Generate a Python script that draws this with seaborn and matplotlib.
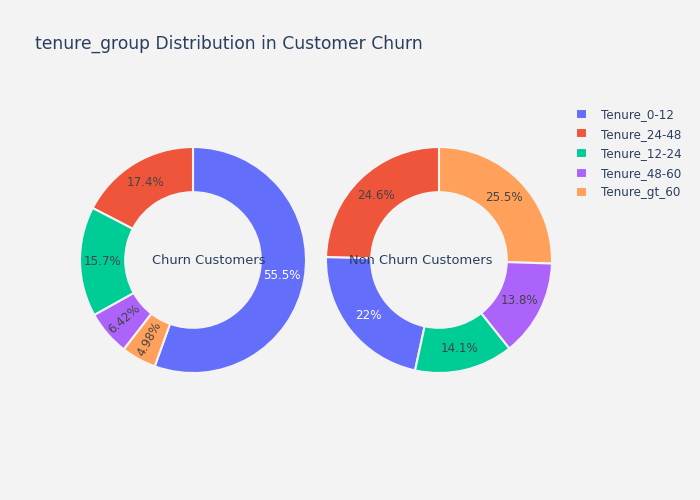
import matplotlib
matplotlib.use("Agg")
import matplotlib.pyplot as plt
import numpy as np
import seaborn as sns

# Dados (percentuais)
grupos = ["Tenure_0-12", "Tenure_24-48", "Tenure_12-24", "Tenure_48-60", "Tenure_gt_60"]
churn_pct = [55.5, 17.4, 15.7, 6.42, 4.98]
nao_churn_pct = [22.0, 24.6, 14.1, 13.8, 25.5]
titulos = ["Churn Customers", "Non Churn Customers"]

cores = ["#636efa", "#EF553B", "#00cc96", "#ab63fa", "#FFA15A"]
fundo = "#f3f3f3"
cor_texto = "#2a3f5f"

sns.set_theme(style="white", rc={"figure.facecolor": fundo, "axes.facecolor": fundo})
plt.rcParams["font.family"] = ["DejaVu Sans"]

fig = plt.figure(figsize=(7, 5), dpi=100)


def donut(ax, valores):
    # ordena decrescente, como o plotly faz
    ordem = np.argsort(valores)[::-1]
    vals = [valores[i] for i in ordem]
    cs = [cores[i] for i in ordem]
    inicio = 90 - 360 * vals[0] / sum(vals)
    wedges, _ = ax.pie(
        vals,
        colors=cs,
        startangle=inicio,
        counterclock=True,
        radius=1,
        wedgeprops=dict(width=0.4, edgecolor=fundo, linewidth=1.5),
    )
    for w, v, i in zip(wedges, vals, ordem):
        ang = np.deg2rad((w.theta1 + w.theta2) / 2)
        r = 0.8
        x, y = r * np.cos(ang), r * np.sin(ang)
        rot = 0
        if v / sum(vals) < 0.1:
            rot = np.rad2deg(ang) % 180
        ax.text(x, y, f"{v:.3g}%", ha="center", va="center",
                fontsize=8.6, rotation=rot,
                color="white" if i == 0 else "#444444")
    ax.set_xlim(-1, 1)
    ax.set_ylim(-1, 1)
    ax.set_aspect("equal")
    return wedges, ordem


ax1 = fig.add_axes([80 / 700, 127 / 500, 226 / 700, 226 / 500])
ax2 = fig.add_axes([326 / 700, 127 / 500, 226 / 700, 226 / 500])

w1, ordem1 = donut(ax1, churn_pct)
donut(ax2, nao_churn_pct)

# anotacoes centrais
fig.text(209 / 700, 1 - 261 / 500, titulos[0], ha="center", va="center",
         fontsize=9.4, color=cor_texto)
fig.text(421 / 700, 1 - 261 / 500, titulos[1], ha="center", va="center",
         fontsize=9.4, color=cor_texto)

fig.text(35 / 700, 1 - 44 / 500, "tenure_group Distribution in Customer Churn",
         ha="left", va="center", fontsize=12.3, color=cor_texto)

handles = [w1[list(ordem1).index(k)] for k in range(len(grupos))]
leg = fig.legend(
    handles, grupos,
    loc="upper left",
    bbox_to_anchor=(576 / 700, 1 - 108 / 500),
    frameon=False,
    fontsize=8.6,
    handlelength=0.9,
    handleheight=0.9,
    handletextpad=1.2,
    labelspacing=0.55,
    borderpad=0,
    borderaxespad=0,
)
for t in leg.get_texts():
    t.set_color(cor_texto)

fig.savefig("out.png", dpi=100, facecolor=fundo)
